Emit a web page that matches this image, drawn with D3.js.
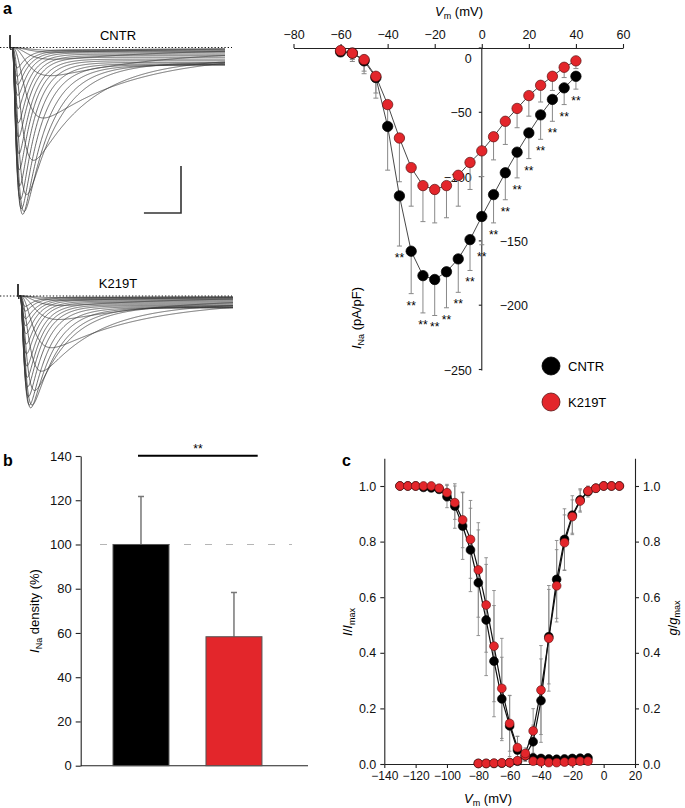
<!DOCTYPE html>
<html><head><meta charset="utf-8">
<script src="https://cdn.jsdelivr.net/npm/d3@7"></script>
<style>
body{margin:0;background:#fff}
svg{display:block;font-family:"Liberation Sans",Arial,Helvetica,sans-serif}
</style></head><body>
<svg id="fig" width="685" height="808"></svg>
<script>
// ---------------- DATA ----------------
// Panel a: current-voltage relation
const ivVoltages = [-60,-55,-50,-45,-40,-35,-30,-25,-20,-15,-10,-5,0,5,10,15,20,25,30,35,40];
const ivCNTR      = [-3,-4,-10,-23,-61,-115,-158,-177,-180,-174,-164,-149,-131,-114,-97,-81,-66,-52,-40,-31,-22];
const ivCNTRerr   = [2,6.5,10,16,34,39,33,29,28,28,26,24,22,22,21,20,20,19,17,13,10];
const ivK219T     = [-2,-4,-9,-22,-44,-70,-93,-107,-110,-107,-99,-89,-80,-69,-57,-47,-37,-29,-22,-15,-10];
const ivK219Terr  = [2,5,9,13,20,34,30,28,26,25,24,21,20,18,18,15,16,13,11,8,6];
const ivStarVoltages = [-35,-30,-25,-20,-15,-10,-5,0,5,10,15,20,25,30,35,40];
const ivXTicks = [-80,-60,-40,-20,0,20,40,60];
const ivYTicks = [0,-50,-100,-150,-200,-250];
const ivYTickRight = [-150,-200];

// Panel a: representative traces (peak amplitude in nA, kinetics in ms), one per voltage step
const traceTauM = [1.8,1.65,1.55,1.5,1.2,0.85,0.6,0.5,0.45,0.4,0.36,0.33,0.31,0.3,0.28,0.27,0.26,0.25,0.24,0.23,0.23];
const traceTauH = [19,18,16,14,12,7.5,4.5,3.6,3.0,2.6,2.3,2.1,1.95,1.85,1.75,1.7,1.62,1.55,1.5,1.42,1.35];
const cntrTraceAmp  = [0.06,0.1,0.25,0.6,1.5,2.4,3.13,3.49,3.55,3.43,3.23,2.94,2.6,2.26,1.91,1.6,1.3,1.02,0.79,0.62,0.43];
const k219tTraceAmp = [0.04,0.09,0.2,0.5,1.1,1.6,2.01,2.32,2.38,2.32,2.14,1.93,1.73,1.49,1.23,1.02,0.8,0.63,0.48,0.32,0.22];

// Panel b: current density
const barGroups = ["CNTR","K219T"];
const barValues = [100, 58.3];
const barErr    = [21.7, 20];
const barTicks  = [0,20,40,60,80,100,120,140];

// Panel c: steady-state inactivation and activation
const inactV = [-130,-125,-120,-115,-110,-105,-100,-95,-90,-85,-80,-75,-70,-65,-60,-55,-50,-45,-40,-35,-30,-25,-20,-15,-10];
const inactCNTR     = [1,1,1,0.995,0.993,0.988,0.962,0.928,0.856,0.77,0.652,0.518,0.37,0.234,0.137,0.05,0.03,0.022,0.02,0.018,0.017,0.018,0.02,0.021,0.022];
const inactCNTRerr  = [0,0,0,0.003,0.005,0.01,0.04,0.08,0.12,0.15,0.19,0.2,0.2,0.15,0.11,0.05,0.02,0.005,0.004,0.004,0.004,0.004,0.004,0.004,0.004];
const inactK219T    = [1,1,1,1,1,0.992,0.976,0.94,0.878,0.808,0.698,0.572,0.424,0.272,0.146,0.059,0.03,0.01,0.008,0.005,0.005,0.007,0.008,0.01,0.01];
const inactK219Terr = [0,0,0,0,0.003,0.008,0.03,0.06,0.1,0.14,0.17,0.17,0.2,0.18,0.1,0.04,0.015,0.004,0.004,0.004,0.004,0.004,0.004,0.004,0.004];
const actV = [-80,-75,-70,-65,-60,-55,-50,-45,-40,-35,-30,-25,-20,-15,-10,-5,0,5,10];
const actCNTR     = [0.002,0.002,0.002,0.003,0.005,0.01,0.03,0.08,0.228,0.458,0.664,0.808,0.895,0.95,0.98,0.992,1,1,1];
const actCNTRerr  = [0.002,0.002,0.002,0.002,0.003,0.005,0.02,0.06,0.15,0.17,0.14,0.11,0.07,0.04,0.02,0.01,0.004,0.003,0.003];
const actK219T    = [0.002,0.002,0.003,0.004,0.005,0.012,0.038,0.119,0.266,0.452,0.641,0.796,0.89,0.946,0.982,0.992,1,1,1];
const actK219Terr = [0.002,0.002,0.002,0.002,0.003,0.006,0.02,0.08,0.16,0.19,0.13,0.1,0.06,0.04,0.015,0.01,0.004,0.003,0.003];
const cXTicks = [-140,-120,-100,-80,-60,-40,-20,0,20];
const cYTicks = [0,0.2,0.4,0.6,0.8,1.0];

// ---------------- STYLE ----------------
const RED = "#e3262b", BLACK = "#000", AXIS = "#222", ERR = "#888";
const svg = d3.select("#fig");

function styleAxis(g, fs) {
  g.selectAll(".domain").attr("stroke", AXIS).attr("stroke-width", 1.1);
  g.selectAll(".tick line").attr("stroke", AXIS).attr("stroke-width", 1.1);
  g.selectAll(".tick text").attr("fill", "#111").attr("font-size", fs)
    .attr("font-family", '"Liberation Sans",Arial,Helvetica,sans-serif');
}

// panel letters
[["a",3,14],["b",3,466],["c",342,466]].forEach(([t,x,y]) =>
  svg.append("text").attr("x",x).attr("y",y).attr("font-size",16).attr("font-weight","bold").text(t));

// ---------------- PANEL a: traces ----------------
const TRACE_END = 29; // ms shown
function tracePoints(amp, tauM, tauH) {
  const p = 0.06, delay = 0.3, dt = 0.05;
  const f = [];
  for (let t = 0; t <= TRACE_END + 1e-9; t += dt) {
    const s = t - delay;
    let v = 0;
    if (s > 0) {
      const m = 1 - Math.exp(-s / tauM);
      v = m * m * m * ((1 - p) * Math.exp(-s / tauH) + p);
    }
    f.push([t, v]);
  }
  const mx = d3.max(f, d => d[1]);
  const pts = f.map(d => [d[0], -amp * d[1] / mx]);
  // capacitive artefact at the step onset
  pts.splice(1, 0, [0.03, 0.25], [0.08, -0.05]);
  return pts;
}

function drawTraces(amps, x0, baseY, label, labelY) {
  const tx = d3.scaleLinear().domain([0, TRACE_END]).range([x0, x0 + 215]);
  const ty = d3.scaleLinear().domain([0, -1]).range([baseY, baseY + 47]);
  const line = d3.line().x(d => tx(d[0])).y(d => ty(d[1])).curve(d3.curveLinear);
  const g = svg.append("g");
  amps.forEach((a, i) => {
    g.append("path").attr("d", line(tracePoints(a, traceTauM[i], traceTauH[i])))
      .attr("fill", "none").attr("stroke", "#3a3a3a").attr("stroke-width", 0.75);
  });
  svg.append("line").attr("x1", 0).attr("x2", 232).attr("y1", baseY).attr("y2", baseY)
    .attr("stroke", "#111").attr("stroke-width", 1.2).attr("stroke-dasharray", "1.3,2");
  svg.append("text").attr("x", 118).attr("y", labelY).attr("text-anchor", "middle")
    .attr("font-size", 13).text(label);
  return {tx, ty};
}
const cntrSc = drawTraces(cntrTraceAmp, 10, 47.5, "CNTR", 40);
drawTraces(k219tTraceAmp, 18, 296, "K219T", 288);
// scale bar (5 ms, 1 nA)
{
  const {tx, ty} = cntrSc;
  const xEnd = 181, yBot = 213;
  const w = tx(5) - tx(0), h = ty(-1) - ty(0);
  svg.append("path").attr("d", `M${xEnd - w},${yBot}H${xEnd}V${yBot - h}`)
    .attr("fill", "none").attr("stroke", "#333").attr("stroke-width", 1.6);
}

// ---------------- PANEL a: I-V ----------------
const ivX = d3.scaleLinear().domain([-80, 60]).range([293.5, 623]);
const ivY = d3.scaleLinear().domain([0, -250]).range([48, 369.5]);

const gTop = svg.append("g").attr("transform", "translate(0,48)")
  .call(d3.axisTop(ivX).tickValues(ivXTicks).tickSize(4).tickSizeOuter(0).tickPadding(5));
styleAxis(gTop, 12.5);

// y axis through 0 mV
svg.append("line").attr("x1", ivX(0)).attr("x2", ivX(0)).attr("y1", 48).attr("y2", 370.5)
  .attr("stroke", AXIS).attr("stroke-width", 1.1);
const yt = svg.append("g");
ivYTicks.forEach(v => {
  const y = ivY(v), right = ivYTickRight.includes(v);
  yt.append("line").attr("x1", ivX(0) - 3).attr("x2", ivX(0)).attr("y1", y).attr("y2", y)
    .attr("stroke", AXIS).attr("stroke-width", 1.1);
  yt.append("text").attr("x", right ? ivX(0) + 18 : ivX(0) - 10)
    .attr("y", (v === 0 ? y + 10 : y) + 5)
    .attr("text-anchor", right ? "start" : "end").attr("font-size", 12.5).attr("fill", "#111")
    .text(d3.format("d")(v));
});

// axis titles
{
  const t = svg.append("text").attr("x", 459).attr("y", 16).attr("text-anchor", "middle").attr("font-size", 13);
  t.append("tspan").attr("font-style", "italic").text("V");
  t.append("tspan").attr("font-size", 9).attr("dy", 3).text("m");
  t.append("tspan").attr("dy", -3).text(" (mV)");
  const t2 = svg.append("text").attr("transform", "translate(361,318) rotate(-90)")
    .attr("text-anchor", "middle").attr("font-size", 13);
  t2.append("tspan").attr("font-style", "italic").text("I");
  t2.append("tspan").attr("font-size", 9).attr("dy", 3).text("Na");
  t2.append("tspan").attr("dy", -3).text(" (pA/pF)");
}

function ivSeries(vals, errs) {
  return ivVoltages.map((v, i) => ({v, y: vals[i], e: errs[i]}));
}
const ivS = [
  {data: ivSeries(ivCNTR, ivCNTRerr), fill: BLACK, stroke: "#000"},
  {data: ivSeries(ivK219T, ivK219Terr), fill: RED, stroke: "#5a1010"}
];
const ivLine = d3.line().x(d => ivX(d.v)).y(d => ivY(d.y));
// error bars (downward)
ivS.forEach(s => {
  const g = svg.append("g").attr("stroke", ERR).attr("stroke-width", 1);
  s.data.forEach(d => {
    const x = ivX(d.v), y0 = ivY(d.y), y1 = ivY(d.y - d.e);
    g.append("line").attr("x1", x).attr("x2", x).attr("y1", y0).attr("y2", y1);
    g.append("line").attr("x1", x - 2.5).attr("x2", x + 2.5).attr("y1", y1).attr("y2", y1);
  });
});
ivS.forEach(s => svg.append("path").attr("d", ivLine(s.data)).attr("fill", "none")
  .attr("stroke", "#333").attr("stroke-width", 0.9));
ivS.forEach(s => svg.append("g").selectAll("circle").data(s.data).join("circle")
  .attr("cx", d => ivX(d.v)).attr("cy", d => ivY(d.y)).attr("r", 5.2)
  .attr("fill", s.fill).attr("stroke", s.stroke).attr("stroke-width", 0.7));
// significance stars
ivStarVoltages.forEach(v => {
  const i = ivVoltages.indexOf(v);
  svg.append("text").attr("x", ivX(v)).attr("y", ivY(ivCNTR[i] - ivCNTRerr[i]) + 16)
    .attr("text-anchor", "middle").attr("font-size", 12).text("**");
});
// legend
[["CNTR", BLACK, "#000", 366], ["K219T", RED, "#5a1010", 402]].forEach(([t, f, s, y]) => {
  svg.append("circle").attr("cx", 551).attr("cy", y).attr("r", 9).attr("fill", f).attr("stroke", s).attr("stroke-width", 0.8);
  svg.append("text").attr("x", 568).attr("y", y + 5).attr("font-size", 13).text(t);
});

// ---------------- PANEL b ----------------
const bY = d3.scaleLinear().domain([0, 140]).range([765.7, 456]);
const bX = d3.scaleBand().domain(barGroups).range([89.75, 285.2]).paddingInner(0.398).paddingOuter(0.25);
const gbY = svg.append("g").attr("transform", "translate(80.7,0)")
  .call(d3.axisLeft(bY).tickValues(barTicks).tickSize(5).tickSizeOuter(0).tickPadding(4));
styleAxis(gbY, 13);
svg.append("line").attr("x1", 80.7).attr("x2", 308).attr("y1", bY(0)).attr("y2", bY(0))
  .attr("stroke", AXIS).attr("stroke-width", 1.1);
svg.append("line").attr("x1", 100).attr("x2", 292).attr("y1", bY(100)).attr("y2", bY(100))
  .attr("stroke", "#b5b5b5").attr("stroke-width", 1.2).attr("stroke-dasharray", "7,14");
barGroups.forEach((gname, i) => {
  const x = bX(gname), w = bX.bandwidth(), cx = x + w / 2;
  svg.append("line").attr("x1", cx).attr("x2", cx).attr("y1", bY(barValues[i])).attr("y2", bY(barValues[i] + barErr[i]))
    .attr("stroke", "#777").attr("stroke-width", 1.5);
  svg.append("line").attr("x1", cx - 3).attr("x2", cx + 3).attr("y1", bY(barValues[i] + barErr[i])).attr("y2", bY(barValues[i] + barErr[i]))
    .attr("stroke", "#777").attr("stroke-width", 1.5);
  svg.append("rect").attr("x", x).attr("y", bY(barValues[i])).attr("width", w).attr("height", bY(0) - bY(barValues[i]))
    .attr("fill", i === 0 ? BLACK : RED).attr("stroke", "#555").attr("stroke-width", 1);
});
svg.append("line").attr("x1", 138).attr("x2", 257.7).attr("y1", 455.7).attr("y2", 455.7)
  .attr("stroke", "#000").attr("stroke-width", 2);
svg.append("text").attr("x", 198).attr("y", 453).attr("text-anchor", "middle").attr("font-size", 12).text("**");
{
  const t = svg.append("text").attr("transform", "translate(39,611) rotate(-90)")
    .attr("text-anchor", "middle").attr("font-size", 13);
  t.append("tspan").attr("font-style", "italic").text("I");
  t.append("tspan").attr("font-size", 9).attr("dy", 3).text("Na");
  t.append("tspan").attr("dy", -3).text(" density (%)");
}

// ---------------- PANEL c ----------------
const cX = d3.scaleLinear().domain([-140, 20]).range([384.3, 635]);
const cY = d3.scaleLinear().domain([0, 1.1]).range([764, 458.2]);
const gcx = svg.append("g").attr("transform", "translate(0,764)")
  .call(d3.axisBottom(cX).tickValues(cXTicks).tickSize(4).tickSizeOuter(0).tickPadding(3));
styleAxis(gcx, 12);
const gcl = svg.append("g").attr("transform", "translate(384.3,0)")
  .call(d3.axisLeft(cY).tickValues(cYTicks).tickFormat(d3.format(".1f")).tickSize(4).tickSizeOuter(0).tickPadding(4));
styleAxis(gcl, 12.5);
const gcr = svg.append("g").attr("transform", "translate(635,0)")
  .call(d3.axisRight(cY).tickValues(cYTicks).tickFormat(d3.format(".1f")).tickSize(4).tickSizeOuter(0).tickPadding(4));
styleAxis(gcr, 12.5);

function cSeries(V, vals, errs) { return V.map((v, i) => ({v, y: vals[i], e: errs[i]})); }
const cS = [
  {data: cSeries(inactV, inactCNTR, inactCNTRerr), fill: BLACK, stroke: "#000"},
  {data: cSeries(actV, actCNTR, actCNTRerr), fill: BLACK, stroke: "#000"},
  {data: cSeries(inactV, inactK219T, inactK219Terr), fill: RED, stroke: "#5a1010"},
  {data: cSeries(actV, actK219T, actK219Terr), fill: RED, stroke: "#5a1010"}
];
const cLine = d3.line().x(d => cX(d.v)).y(d => cY(d.y));
cS.forEach(s => {
  const g = svg.append("g").attr("stroke", ERR).attr("stroke-width", 0.9);
  s.data.filter(d => d.e > 0.006).forEach(d => {
    const x = cX(d.v), y0 = cY(d.y - d.e), y1 = cY(d.y + d.e);
    g.append("line").attr("x1", x).attr("x2", x).attr("y1", y0).attr("y2", y1);
    g.append("line").attr("x1", x - 1.8).attr("x2", x + 1.8).attr("y1", y0).attr("y2", y0);
    g.append("line").attr("x1", x - 1.8).attr("x2", x + 1.8).attr("y1", y1).attr("y2", y1);
  });
});
cS.forEach(s => svg.append("path").attr("d", cLine(s.data)).attr("fill", "none")
  .attr("stroke", "#111").attr("stroke-width", 1.2));
cS.forEach(s => svg.append("g").selectAll("circle").data(s.data).join("circle")
  .attr("cx", d => cX(d.v)).attr("cy", d => cY(d.y)).attr("r", 4.4)
  .attr("fill", s.fill).attr("stroke", s.stroke).attr("stroke-width", 0.6));
{
  const t = svg.append("text").attr("x", 488).attr("y", 803).attr("text-anchor", "middle").attr("font-size", 13);
  t.append("tspan").attr("font-style", "italic").text("V");
  t.append("tspan").attr("font-size", 9).attr("dy", 3).text("m");
  t.append("tspan").attr("dy", -3).text(" (mV)");
  const l = svg.append("text").attr("transform", "translate(352,622) rotate(-90)")
    .attr("text-anchor", "middle").attr("font-size", 13);
  l.append("tspan").attr("font-style", "italic").text("I");
  l.append("tspan").text("/");
  l.append("tspan").attr("font-style", "italic").text("I");
  l.append("tspan").attr("font-size", 9).attr("dy", 3).text("max");
  const r = svg.append("text").attr("transform", "translate(677,618) rotate(-90)")
    .attr("text-anchor", "middle").attr("font-size", 13);
  r.append("tspan").attr("font-style", "italic").text("g");
  r.append("tspan").text("/");
  r.append("tspan").attr("font-style", "italic").text("g");
  r.append("tspan").attr("font-size", 9).attr("dy", 3).text("max");
}
</script>
</body></html>
